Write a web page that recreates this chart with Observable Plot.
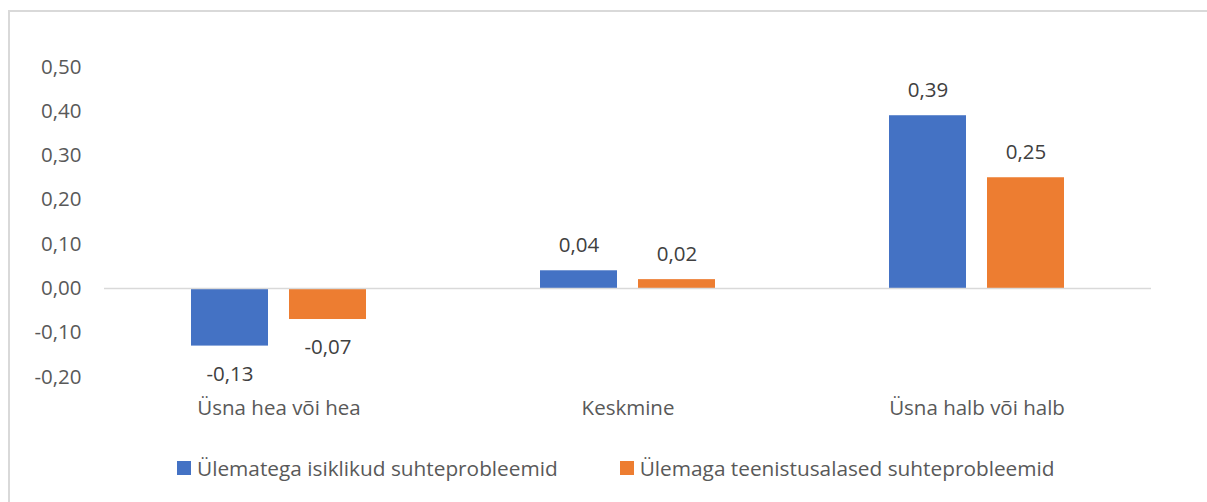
<!DOCTYPE html>
<html><head><meta charset="utf-8">
<script src="https://cdn.jsdelivr.net/npm/d3@7"></script>
<script src="https://cdn.jsdelivr.net/npm/@observablehq/plot@0.6"></script>
<style>
html,body{margin:0;padding:0;background:#fff}
body{width:1207px;height:502px;position:relative;overflow:hidden;font-family:"Open Sans",sans-serif}
#frame{position:absolute;left:8px;top:10px;width:1400px;height:700px;border:2px solid #d9d9d9;box-sizing:border-box}
#chart{position:absolute;left:0;top:0}
#legend{position:absolute;top:454px;left:177px;display:flex;align-items:center;font-size:20.8px;color:#595959;white-space:nowrap}
.sw{display:inline-block;width:14px;height:14px;margin-right:6px}
.item{display:flex;align-items:center}
</style></head>
<body>
<div id="frame"></div>
<div id="chart"></div>
<div id="legend"></div>
<script>
const categories = ["Üsna hea või hea", "Keskmine", "Üsna halb või halb"];
const seriesNames = ["Ülematega isiklikud suhteprobleemid", "Ülemaga teenistusalased suhteprobleemid"];
const personalValues = [-0.13, 0.04, 0.39];
const serviceValues = [-0.07, 0.02, 0.25];
const yTicks = [-0.2, -0.1, 0, 0.1, 0.2, 0.3, 0.4, 0.5];
const colors = ["#4472c4", "#ed7d31"];

const locale = d3.formatLocale({decimal: ",", thousands: " ", grouping: [3], currency: ["", " €"], minus: "-"});
const fmt = locale.format(".2f");

const data = [];
categories.forEach((c, i) => {
  data.push({cat: c, series: seriesNames[0], value: personalValues[i]});
  data.push({cat: c, series: seriesNames[1], value: serviceValues[i]});
});
const pos = data.filter(d => d.value >= 0);
const neg = data.filter(d => d.value < 0);

const chart = Plot.plot({
  width: 1207,
  height: 440,
  marginLeft: 103,
  marginRight: 55,
  marginTop: 66.5,
  marginBottom: 63.4,
  style: {fontFamily: "Open Sans, sans-serif", fontSize: "20.5px", color: "#595959", background: "transparent"},
  fx: {domain: categories, padding: 0, label: null, tickSize: 0, tickPadding: 23},
  x: {domain: seriesNames, paddingInner: 0.212, paddingOuter: 0.872, axis: null},
  y: {domain: [-0.2, 0.5], ticks: yTicks, tickFormat: fmt, tickSize: 0, tickPadding: 23, label: null},
  color: {domain: seriesNames, range: colors},
  marks: [
    Plot.barY(data, {fx: "cat", x: "series", y: "value", fill: "series"}),
    Plot.ruleY([0], {stroke: "#d9d9d9", strokeWidth: 1.5}),
    Plot.text(pos, {fx: "cat", x: "series", y: "value", text: d => fmt(d.value), dy: -25, fill: "#404040", fontSize: 20.5}),
    Plot.text(neg, {fx: "cat", x: "series", y: "value", text: d => fmt(d.value), dy: 28, fill: "#404040", fontSize: 20.5})
  ]
});
document.getElementById("chart").appendChild(chart);

const legend = document.getElementById("legend");
seriesNames.forEach((s, i) => {
  const it = document.createElement("div");
  it.className = "item";
  if (i > 0) it.style.marginLeft = "62px";
  const sw = document.createElement("span");
  sw.className = "sw";
  sw.style.background = colors[i];
  it.appendChild(sw);
  const t = document.createElement("span");
  t.textContent = s;
  it.appendChild(t);
  legend.appendChild(it);
});
</script>
</body></html>
